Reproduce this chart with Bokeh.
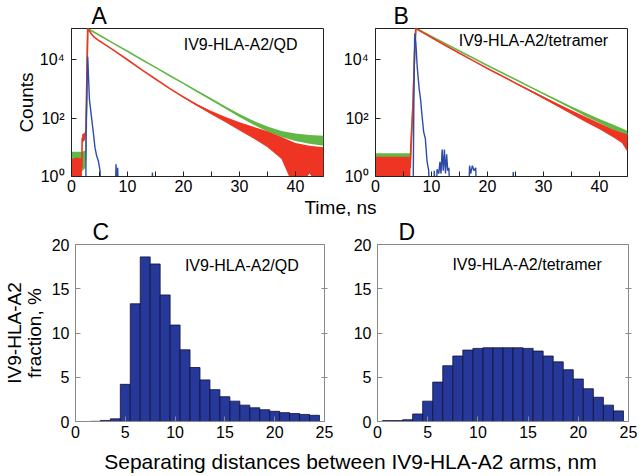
from bokeh.plotting import figure
from bokeh.models import Label, FixedTicker, CustomJSTickFormatter, LinearAxis
from bokeh.layouts import column, row
from bokeh.embed import file_html
from bokeh.resources import INLINE

FONT = "Liberation Sans"

# ---------------- data ----------------
# Panel A: fluorescence decays, log10(counts); -1 / -0.5 = empty channel (below 10^0)
a_green_t = [0, 1, 2, 2.5, 2.6, 2.75, 2.9, 3.5, 5, 7.5, 10, 12.5, 15, 17.5, 20, 22.5, 25, 27.5, 30, 32.5, 35, 37.5, 40, 42.5, 45]
a_green = [0.5, 0.5, 0.5, 0.55, 1.0, 3.5, 5.07, 5.0, 4.84, 4.56, 4.29, 4.01, 3.74, 3.46, 3.19, 2.91, 2.64, 2.36, 2.09, 1.84, 1.62, 1.46, 1.35, 1.28, 1.24]
a_green_lo = [0.2, 0.2, 0.2, 0.3, 1.0, 3.5, 5.07, 5.0, 4.84, 4.56, 4.29, 4.01, 3.74, 3.46, 3.18, 2.89, 2.61, 2.32, 2.04, 1.77, 1.54, 1.35, 1.22, 1.12, 1.05]
a_green_hi = [0.85, 0.85, 0.85, 0.9, 1.0, 3.5, 5.07, 5.0, 4.84, 4.56, 4.29, 4.01, 3.74, 3.46, 3.20, 2.93, 2.67, 2.40, 2.14, 1.91, 1.71, 1.56, 1.47, 1.42, 1.40]

a_red_t = [0, 1, 1.85, 1.9, 2.4, 2.6, 2.75, 2.9, 3.5, 4, 5, 6, 7.5, 10, 12.5, 15, 17.5, 20, 22.5, 25, 27.5, 30, 32.5, 35, 37.5, 40, 42.5, 45]
a_red = [0.3, 0.3, 0.3, 1.3, 1.4, 1.6, 3.5, 5.07, 4.9, 4.78, 4.64, 4.52, 4.33, 4.0, 3.66, 3.34, 3.02, 2.72, 2.44, 2.18, 1.95, 1.72, 1.5, 1.28, 1.0, 0.7, 0.55, 0.5]
a_red_lo = [-0.5, -0.5, -0.5, 1.15, 1.25, 1.6, 3.5, 5.07, 4.9, 4.78, 4.64, 4.52, 4.33, 4.0, 3.66, 3.34, 3.02, 2.70, 2.41, 2.12, 1.86, 1.58, 1.30, 1.0, 0.6, -0.5, 0.1, -0.5]
a_red_hi = [0.6, 0.65, 0.6, 1.45, 1.5, 1.6, 3.5, 5.07, 4.9, 4.78, 4.64, 4.52, 4.33, 4.0, 3.66, 3.34, 3.02, 2.74, 2.47, 2.24, 2.04, 1.86, 1.70, 1.55, 1.35, 1.15, 1.05, 1.0]

a_blue_t = [0, 2.55, 2.6, 2.75, 2.9, 3.2, 3.6, 3.9, 4.2, 4.5, 4.8, 5.1, 5.3, 7.8, 7.95, 8.1, 8.25, 8.4, 14.3, 14.45, 14.6, 45]
a_blue = [-1, -1, 1.5, 3.0, 4.1, 2.64, 1.98, 1.5, 0.98, 0.7, 0.53, 0.2, -1, -1, 0.42, -0.5, 0.3, -1, -1, 0.14, -1, -1]

# Panel B
b_green_t = [0, 2, 4, 6.2, 6.3, 6.7, 7.0, 7.2, 8, 10, 12.5, 15, 17.5, 20, 22.5, 25, 27.5, 30, 32.5, 35, 37.5, 40, 42.5, 45]
b_green = [0.55, 0.55, 0.55, 0.55, 0.7, 2.5, 4.3, 5.07, 5.0, 4.8, 4.55, 4.3, 4.05, 3.8, 3.56, 3.32, 3.08, 2.84, 2.6, 2.36, 2.12, 1.9, 1.68, 1.45]
b_green_lo = [0.35, 0.35, 0.35, 0.35, 0.7, 2.5, 4.3, 5.07, 5.0, 4.8, 4.55, 4.3, 4.05, 3.8, 3.56, 3.32, 3.07, 2.82, 2.57, 2.32, 2.06, 1.83, 1.59, 1.33]
b_green_hi = [0.8, 0.8, 0.8, 0.8, 0.7, 2.5, 4.3, 5.07, 5.0, 4.8, 4.55, 4.3, 4.05, 3.8, 3.56, 3.32, 3.09, 2.86, 2.63, 2.40, 2.18, 1.97, 1.77, 1.57]

b_red_t = [0, 2, 4, 6.2, 6.3, 6.7, 7.0, 7.2, 8, 10, 12.5, 15, 17.5, 20, 22.5, 25, 27.5, 30, 32.5, 35, 37.5, 40, 42.5, 44, 45]
b_red = [0.3, 0.3, 0.3, 0.3, 1.0, 2.5, 4.3, 5.07, 4.98, 4.76, 4.49, 4.22, 3.96, 3.70, 3.45, 3.20, 2.95, 2.70, 2.45, 2.20, 1.96, 1.72, 1.48, 1.33, 1.2]
b_red_lo = [-0.5, -0.5, -0.5, -0.5, 1.0, 2.5, 4.3, 5.07, 4.98, 4.76, 4.49, 4.22, 3.96, 3.70, 3.44, 3.18, 2.92, 2.66, 2.40, 2.13, 1.87, 1.62, 1.34, 1.15, 0.85]
b_red_hi = [0.68, 0.68, 0.68, 0.68, 1.0, 2.5, 4.3, 5.07, 4.98, 4.76, 4.49, 4.22, 3.96, 3.70, 3.46, 3.22, 2.98, 2.74, 2.50, 2.27, 2.05, 1.82, 1.60, 1.50, 1.45]

b_blue_t = [0, 6.7, 6.85, 7.0, 7.2, 7.45, 7.8, 8.05, 8.3, 8.6, 8.9, 9.2, 9.5, 9.7, 10.3, 10.5, 10.7, 11.0, 11.3, 11.5, 11.7, 11.9, 12.1, 12.3, 12.5, 12.7, 12.9, 13.1, 13.4, 16.6, 16.8, 17.0, 17.3, 17.6, 17.9, 18.1, 24.4, 24.6, 24.8, 45]
b_blue = [-1, -1, 2.5, 4.9, 4.6, 3.75, 3.0, 2.64, 2.1, 1.53, 1.3, 0.53, 0.2, -1, -1, 0.2, -1, 0.25, 0.1, 0.5, 0.1, 0.92, 0.2, 0.92, 0.1, 0.76, 0.2, 0.3, -1, -1, 0.37, 0.1, 0.37, 0.2, 0.3, -1, -1, 0.15, -1, -1]

# Panels C and D: distance histograms (bin centres, nm) and fractions (%)
dist_nm = [1, 2, 3, 4, 5, 6, 7, 8, 9, 10, 11, 12, 13, 14, 15, 16, 17, 18, 19, 20, 21, 22, 23, 24]
frac_qd = [0.0, 0.02, 0.12, 0.3, 4.2, 13.3, 18.6, 17.8, 14.3, 10.9, 8.1, 6.1, 4.7, 3.6, 2.8, 2.3, 1.85, 1.55, 1.33, 1.15, 1.0, 0.9, 0.8, 0.7]
frac_tetramer = [0.1, 0.1, 0.2, 0.85, 2.3, 4.45, 6.3, 7.4, 8.07, 8.26, 8.33, 8.33, 8.33, 8.33, 8.26, 7.96, 7.4, 6.74, 5.85, 4.8, 3.7, 2.74, 1.85, 1.2]

# ---------------- styling ----------------
GREEN = "#62B846"
RED = "#EE3523"
BLUE = "#2F4BAA"
BAR = "#26399A"
TOP = 10 ** 5.07

sup_fmt = CustomJSTickFormatter(code="""
const e = Math.round(Math.log10(tick));
const s = {"0": "\\u2070", "1": "\\u00b9", "2": "\\u00b2", "3": "\\u00b3", "4": "\\u2074", "5": "\\u2075"};
return "10" + s[String(e)];
""")


def pw(v):
    return [10 ** x for x in v]


def panel_title(p, letter, offset):
    p.title.text = letter
    p.title.align = "left"
    p.title.offset = offset
    p.title.standoff = 0
    p.title.text_font = FONT
    p.title.text_font_size = "23px"
    p.title.text_line_height = 1.0
    p.title.text_font_style = "normal"
    p.title.text_color = "black"


def style_axis_label(ax, line_height=1.0):
    ax.axis_label_text_font = FONT
    ax.axis_label_text_font_size = "19px"
    ax.axis_label_text_font_style = "normal"
    ax.axis_label_text_color = "black"
    ax.axis_label_text_line_height = line_height


def decay_fig(width, left, right):
    p = figure(width=width, height=196, x_range=(0, 45), y_range=(1, TOP), y_axis_type="log",
               output_backend="svg", toolbar_location=None,
               min_border_left=left, min_border_right=right, min_border_top=24, min_border_bottom=20)
    p.grid.visible = False
    p.outline_line_color = "#222222"
    p.xaxis.ticker = FixedTicker(ticks=[0, 10, 20, 30, 40], minor_ticks=[5, 15, 25, 35])
    p.yaxis.ticker = FixedTicker(ticks=[1, 100, 10000], minor_ticks=[])
    p.yaxis.formatter = sup_fmt
    for ax in (p.xaxis, p.yaxis):
        ax.axis_line_color = "#222222"
        ax.major_tick_in = 5
        ax.major_tick_out = 0
        ax.minor_tick_in = 5
        ax.minor_tick_out = 0
        ax.major_tick_line_color = "#222222"
        ax.minor_tick_line_color = "#222222"
        ax.major_label_text_font = FONT
        ax.major_label_text_font_size = "16px"
        ax.major_label_text_color = "black"
    p.xaxis.major_label_standoff = 3
    p.yaxis.major_label_standoff = 7
    return p


def draw_decays(p, gt, g, glo, ghi, rt, r, rlo, rhi, bt, b):
    p.varea(x=gt, y1=pw(glo), y2=pw(ghi), fill_color=GREEN)
    p.line(gt, pw(g), line_color=GREEN, line_width=1.6)
    p.varea(x=rt, y1=pw(rlo), y2=pw(rhi), fill_color=RED)
    p.line(rt, pw(r), line_color=RED, line_width=1.6)
    p.line(bt, pw(b), line_color=BLUE, line_width=1.4)


def lab(p, x, y, text, size, **kw):
    p.add_layout(Label(x=x, y=y, text=text, text_font=FONT, text_font_size=size,
                       text_color="black", **kw))


# Panel A
pa = decay_fig(340, 71, 17)
draw_decays(pa, a_green_t, a_green, a_green_lo, a_green_hi, a_red_t, a_red, a_red_lo, a_red_hi, a_blue_t, a_blue)
pa.yaxis.axis_label = "Counts"
pa.yaxis.axis_label_standoff = 0
style_axis_label(pa.left[0])
panel_title(pa, "A", 20)
lab(pa, 30.2, 10 ** 4.53, "IV9-HLA-A2/QD", "16px", text_align="center", text_baseline="middle")

# Panel B
pb = decay_fig(302, 35, 15)
draw_decays(pb, b_green_t, b_green, b_green_lo, b_green_hi, b_red_t, b_red, b_red_lo, b_red_hi, b_blue_t, b_blue)
panel_title(pb, "B", 18)
lab(pb, 28.2, 10 ** 4.67, "IV9-HLA-A2/tetramer", "16px", text_align="center", text_baseline="middle")


def hist_fig(width, left, right, vals):
    p = figure(width=width, height=227, x_range=(0, 25), y_range=(0, 20),
               output_backend="svg", toolbar_location=None,
               min_border_left=left, min_border_right=right, min_border_top=25, min_border_bottom=22)
    p.grid.visible = False
    p.outline_line_color = "#8a8a8a"
    p.vbar(x=dist_nm, top=vals, width=1, bottom=0, fill_color=BAR, line_color="#101035", line_width=0.8)
    p.xaxis.ticker = FixedTicker(ticks=[0, 5, 10, 15, 20, 25], minor_ticks=[])
    p.yaxis.ticker = FixedTicker(ticks=[0, 5, 10, 15, 20], minor_ticks=[])
    for ax in (p.xaxis, p.yaxis):
        ax.axis_line_color = "#8a8a8a"
        ax.major_tick_in = 5
        ax.major_tick_out = 0
        ax.major_tick_line_color = "#8a8a8a"
        ax.major_label_text_font = FONT
        ax.major_label_text_font_size = "16px"
        ax.major_label_text_color = "black"
    p.xaxis.major_label_standoff = 4
    p.yaxis.major_label_standoff = 6
    # right-hand tick marks only (no labels)
    ra = LinearAxis(ticker=FixedTicker(ticks=[], minor_ticks=[5, 10, 15]),
                    minor_tick_in=3, minor_tick_out=3, minor_tick_line_color="#8a8a8a",
                    major_tick_in=0, major_tick_out=0, major_label_standoff=0,
                    axis_line_color="#8a8a8a")
    p.add_layout(ra, "right")
    return p


pc = hist_fig(340, 70, 16, frac_qd)
panel_title(pc, "C", 17)
lab(pc, 16.7, 17.6, "IV9-HLA-A2/QD", "16px", text_align="center", text_baseline="middle")
main_left = pc.left[0]
main_left.axis_label = "IV9-HLA-A2\nfraction, %"
main_left.axis_label_standoff = 4
style_axis_label(main_left, line_height=0.95)

pd_ = hist_fig(302, 37, 14, frac_tetramer)
panel_title(pd_, "D", 21)
lab(pd_, 14.9, 17.78, "IV9-HLA-A2/tetramer", "16px", text_align="center", text_baseline="middle")


def strip(h):
    s = figure(width=642, height=h, x_range=(0, 642), y_range=(0, h), x_axis_type=None, y_axis_type=None,
               output_backend="svg", toolbar_location=None, min_border=0)
    s.outline_line_color = None
    return s


s1 = strip(20)
lab(s1, 340, 9.5, "Time, ns", "19px", text_align="center", text_baseline="middle")
s2 = strip(30)
lab(s2, 350, 12, "Separating distances between IV9-HLA-A2 arms, nm", "21px",
    text_align="center", text_baseline="middle")

layout = column(row(pa, pb), s1, row(pc, pd_), s2)

open("out.html", "w").write(file_html(layout, INLINE))
